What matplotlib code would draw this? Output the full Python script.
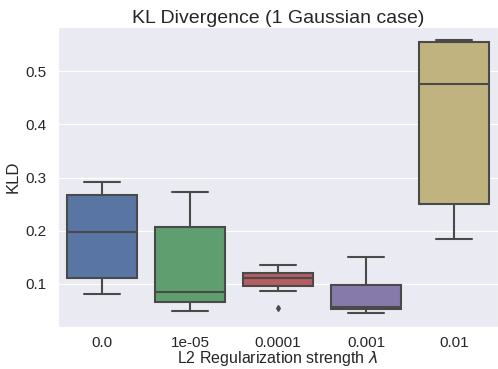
import matplotlib
matplotlib.use("Agg")
import matplotlib.pyplot as plt
import seaborn as sns

# Regularization strengths and the box statistics of the KL divergence for each
lambdas = ["0.0", "1e-05", "0.0001", "0.001", "0.01"]
whisker_low = [0.080, 0.048, 0.087, 0.045, 0.184]
q1 = [0.111, 0.065, 0.095, 0.052, 0.251]
median = [0.197, 0.084, 0.111, 0.056, 0.476]
q3 = [0.268, 0.206, 0.121, 0.097, 0.555]
whisker_high = [0.292, 0.272, 0.136, 0.151, 0.559]
outliers = [[], [], [0.054], [], []]

palette = ["#4C72B0", "#55A868", "#C44E52", "#8172B2", "#CCB974"]

sns.set_style("darkgrid")
plt.rcParams["font.family"] = ["Liberation Sans", "DejaVu Sans"]

fig = plt.figure(figsize=(4.98, 3.69), dpi=100)
ax = fig.add_axes([0.1165, 0.113, 0.8835, 0.8146])

stats = []
for i, name in enumerate(lambdas):
    stats.append(dict(label=name, med=median[i], q1=q1[i], q3=q3[i],
                      whislo=whisker_low[i], whishi=whisker_high[i],
                      fliers=outliers[i]))

edge = "#4a4a4a"
bp = ax.bxp(stats, positions=range(len(lambdas)), widths=0.8, patch_artist=True,
            showfliers=True, capwidths=0.4,
            boxprops=dict(edgecolor=edge, linewidth=1.5),
            medianprops=dict(color=edge, linewidth=1.5),
            whiskerprops=dict(color=edge, linewidth=1.5),
            capprops=dict(color=edge, linewidth=1.5),
            flierprops=dict(marker="d", markersize=3, markerfacecolor=edge,
                            markeredgecolor=edge))
for patch, c in zip(bp["boxes"], palette):
    patch.set_facecolor(sns.desaturate(c, 0.75))

ax.set_xlim(-0.5, len(lambdas) - 0.5)
ax.set_ylim(0.018, 0.584)
ax.set_yticks([0.1, 0.2, 0.3, 0.4, 0.5])
ax.xaxis.grid(False)
ax.tick_params(labelsize=11)
ax.tick_params(axis="x", pad=2.5)
ax.tick_params(axis="y", pad=5)
ax.set_xlabel(r"L2 Regularization strength $\lambda$", fontsize=11.5, labelpad=-0.5)
ax.set_ylabel("KLD", fontsize=12, labelpad=3.5)
ax.set_title("KL Divergence (1 Gaussian case)", fontsize=14, pad=2.5)

fig.savefig("out.png", dpi=100)
